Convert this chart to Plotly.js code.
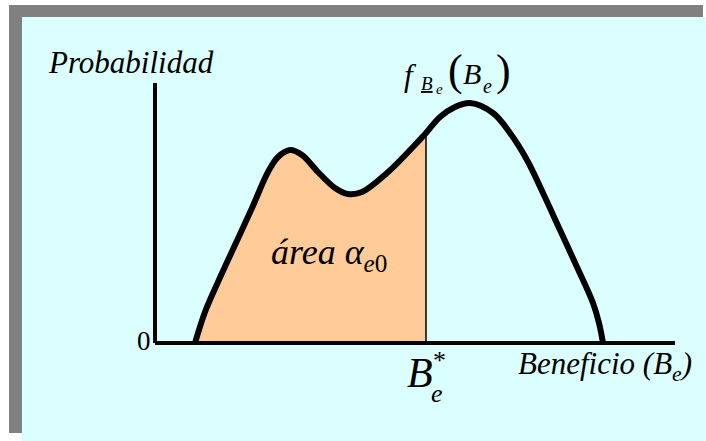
<!DOCTYPE html>
<html><head><meta charset="utf-8">
<script src="https://cdn.plot.ly/plotly-3.0.1.min.js"></script>
<style>
html,body{margin:0;padding:0;background:#fff;width:706px;height:441px;overflow:hidden;}
#shadow{position:absolute;left:9px;top:5px;width:694px;height:428px;background:#808080;}
#panel{position:absolute;left:22px;top:17px;width:684px;height:424px;background:#DBFFFF;}
#chart{position:absolute;left:0;top:0;width:706px;height:441px;}
</style></head><body>
<div id="shadow"></div><div id="panel"></div><div id="chart"></div>
<script>
// Beneficio (B_e) values and density f(B_e)
var beneficio = [4.0, 5.0, 6.3, 8.0, 9.7, 11.3, 12.3, 13.5, 14.7, 16.3, 18.0, 19.3, 20.7, 23.2, 25.8, 27.1, 28.5, 30.0, 31.5, 33.8, 35.5, 37.2, 38.8, 40.5, 42.2, 43.8, 44.4, 44.8];
var densidad  = [0.00, 0.31, 0.61, 0.98, 1.35, 1.71, 1.86, 1.93, 1.88, 1.71, 1.55, 1.49, 1.51, 1.70, 1.96, 2.10, 2.26, 2.36, 2.40, 2.30, 2.10, 1.83, 1.50, 1.13, 0.76, 0.40, 0.20, 0.00];
var bStar = 27.1;
var xRange = [0, 52];
var yRange = [0, 2.6];

var fillX = [], fillY = [];
for (var i = 0; i < beneficio.length; i++) {
  if (beneficio[i] <= bStar) { fillX.push(beneficio[i]); fillY.push(densidad[i]); }
}
var fStar = fillY[fillY.length - 1];

var W = 706, H = 441, mL = 155, mR = 31, mT = 83, mB = 98;
var pw = W - mL - mR, ph = H - mT - mB;
function px(x) { return (x - mL) / pw; }
function py(y) { return (H - mB - y) / ph; }

var serif = '"Times New Roman", "Liberation Serif", serif';
function ann(text, x, y, size, xa) {
  return {text: text, x: px(x), y: py(y), xref: 'paper', yref: 'paper', showarrow: false,
    xanchor: xa || 'center', yanchor: 'middle', font: {family: serif, size: size, color: '#000'}};
}

var traces = [
  {x: fillX, y: fillY, type: 'scatter', mode: 'lines', line: {shape: 'spline', smoothing: 1, width: 0, color: 'rgba(0,0,0,0)'},
   fill: 'tozeroy', fillcolor: '#FFCC99', hoverinfo: 'skip'},
  {x: [bStar, bStar], y: [0, fStar], type: 'scatter', mode: 'lines', line: {color: '#000', width: 1.5}, hoverinfo: 'skip'},
  {x: beneficio, y: densidad, type: 'scatter', mode: 'lines', line: {shape: 'spline', smoothing: 1, width: 6, color: '#000'}, cliponaxis: false}
];

var layout = {
  width: W, height: H, margin: {l: mL, r: mR, t: mT, b: mB, pad: 0},
  paper_bgcolor: 'rgba(0,0,0,0)', plot_bgcolor: 'rgba(0,0,0,0)', showlegend: false,
  font: {family: serif},
  xaxis: {range: xRange, showgrid: false, zeroline: false, showline: false, showticklabels: false, ticks: ''},
  yaxis: {range: yRange, showgrid: false, zeroline: false, showline: false, showticklabels: false, ticks: ''},
  shapes: [
    {type: 'line', xref: 'paper', yref: 'paper', x0: 0, x1: 0, y0: 0, y1: 1, line: {color: '#000', width: 4}},
    {type: 'line', xref: 'paper', yref: 'paper', x0: 0, x1: 1, y0: 0, y1: 0, line: {color: '#000', width: 4}}
  ],
  annotations: [
    ann('<i>Probabilidad</i>', 46, 62, 31, 'left'),
    ann('0', 144, 341, 27),
    ann('<i>Beneficio (B<sub>e</sub>)</i>', 516, 366, 31, 'left'),
    ann('<i>B</i>', 420, 373, 42),
    ann('<i>e</i>', 437, 393, 26),
    ann('*', 439, 360, 26),
    ann('<i>área </i><i>α</i><sub><i>e</i>0</sub>', 269, 254, 36, 'left'),
    ann('<i>f</i>', 410, 75, 31),
    ann('<i><span style="text-decoration:underline">B</span></i>', 427, 83, 19),
    ann('<i>e</i>', 439, 89, 15),
    ann('(', 455, 71, 44),
    ann('<i>B</i>', 472, 74, 30),
    ann('<i>e</i>', 487, 86, 20),
    ann(')', 503, 71, 44)
  ]
};
Plotly.newPlot('chart', traces, layout, {staticPlot: true, displayModeBar: false});
</script></body></html>
